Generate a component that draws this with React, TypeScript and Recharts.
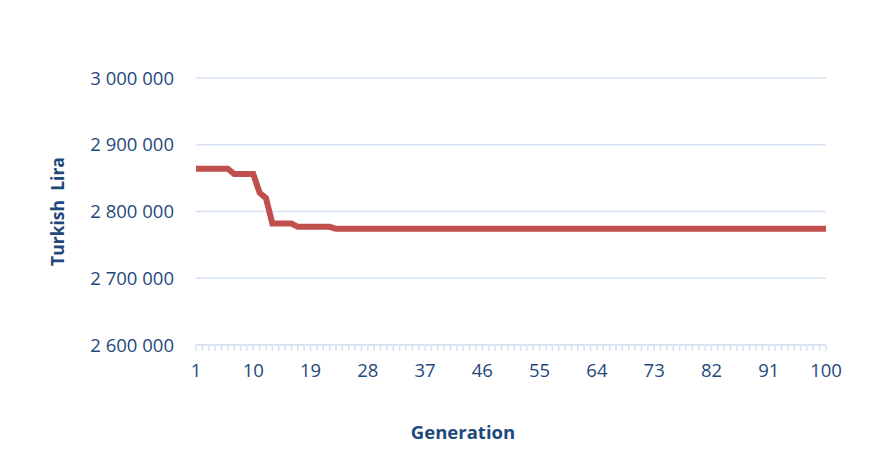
import { LineChart, Line, XAxis, YAxis, CartesianGrid } from 'recharts';

// generation numbers 1..100
const generations = Array.from({ length: 100 }, (_, i) => i + 1);

// best cost per generation (Turkish Lira)
const bestCost = [
  2864000, 2864000, 2864000, 2864000, 2864000, 2864000, 2856000, 2856000, 2856000, 2856000,
  2828000, 2820000, 2782000, 2782000, 2782000, 2782000, 2777000, 2777000, 2777000, 2777000,
  2777000, 2777000, 2774000, 2774000, 2774000, 2774000, 2774000, 2774000, 2774000, 2774000,
  2774000, 2774000, 2774000, 2774000, 2774000, 2774000, 2774000, 2774000, 2774000, 2774000,
  2774000, 2774000, 2774000, 2774000, 2774000, 2774000, 2774000, 2774000, 2774000, 2774000,
  2774000, 2774000, 2774000, 2774000, 2774000, 2774000, 2774000, 2774000, 2774000, 2774000,
  2774000, 2774000, 2774000, 2774000, 2774000, 2774000, 2774000, 2774000, 2774000, 2774000,
  2774000, 2774000, 2774000, 2774000, 2774000, 2774000, 2774000, 2774000, 2774000, 2774000,
  2774000, 2774000, 2774000, 2774000, 2774000, 2774000, 2774000, 2774000, 2774000, 2774000,
  2774000, 2774000, 2774000, 2774000, 2774000, 2774000, 2774000, 2774000, 2774000, 2774000,
];

const yTicks = [2600000, 2700000, 2800000, 2900000, 3000000];
const xLabels = [1, 10, 19, 28, 37, 46, 55, 64, 73, 82, 91, 100];

const data = generations.map((g, i) => ({ gen: g, cost: bestCost[i] }));

const TEXT = '#1F497D';
const GRID = '#D7E2F2';
const FRAME = '#C9D8EE';
const FONT = '"Open Sans", sans-serif';

const fmt = (v: number) => String(v).replace(/\B(?=(\d{3})+(?!\d))/g, ' ');

const XTick = (props: any) => {
  const { x, y, payload } = props;
  const showLabel = xLabels.includes(payload.value);
  return (
    <g>
      <line x1={x} x2={x} y1={y} y2={y + 6} stroke={GRID} strokeWidth={1.5} />
      {showLabel && (
        <text x={x} y={y + 32} textAnchor="middle" fill={TEXT} fontSize={18.5} fontFamily={FONT}>
          {payload.value}
        </text>
      )}
    </g>
  );
};

const YTitle = (props: any) => {
  const { viewBox } = props;
  const cx = viewBox.x + 57;
  const cy = viewBox.y + viewBox.height / 2;
  return (
    <text
      x={cx}
      y={cy}
      transform={`rotate(-90 ${cx} ${cy})`}
      textAnchor="middle"
      dominantBaseline="central"
      fill={TEXT}
      fontSize={17.5}
      fontWeight="bold"
      fontFamily={FONT}
      style={{ whiteSpace: 'pre' }}
    >
      {'Turkish  Lira'}
    </text>
  );
};

const XTitle = (props: any) => {
  const { viewBox } = props;
  return (
    <text
      x={viewBox.x + viewBox.width / 2 - 48}
      y={viewBox.y + 94}
      textAnchor="middle"
      fill={TEXT}
      fontSize={18.5}
      fontWeight="bold"
      fontFamily={FONT}
    >
      Generation
    </text>
  );
};

export default function App() {
  return (
    <div
      style={{
        position: 'relative',
        margin: -8,
        width: 888,
        height: 470,
        overflow: 'hidden',
        backgroundColor: '#fff',
      }}
    >
      <LineChart
        width={888}
        height={470}
        data={data}
        margin={{ top: 78, right: 62, left: 0, bottom: 0 }}
        style={{ position: 'absolute', left: 0, top: 0 }}
      >
        <CartesianGrid vertical={false} stroke={GRID} strokeWidth={1.5} />
        <XAxis
          dataKey="gen"
          height={125}
          interval={0}
          tickSize={0}
          tickMargin={0}
          tickLine={false}
          axisLine={{ stroke: GRID, strokeWidth: 1.5 }}
          tick={<XTick />}
          label={{ content: <XTitle /> }}
        />
        <YAxis
          width={196}
          domain={[2600000, 3000000]}
          ticks={yTicks}
          tickFormatter={fmt}
          axisLine={false}
          tickLine={false}
          tickSize={0}
          tickMargin={22}
          tick={{ fill: TEXT, fontSize: 18.5, fontFamily: FONT }}
          label={{ content: <YTitle /> }}
        />
        <Line
          type="linear"
          dataKey="cost"
          stroke="#C0504D"
          strokeWidth={6}
          dot={false}
          isAnimationActive={false}
        />
      </LineChart>
      <div
        style={{
          position: 'absolute',
          left: 5,
          top: 5,
          right: -20,
          bottom: -20,
          borderTop: `3px solid ${FRAME}`,
          borderLeft: `3px solid ${FRAME}`,
          zIndex: 5,
          pointerEvents: 'none',
        }}
      />
    </div>
  );
}
